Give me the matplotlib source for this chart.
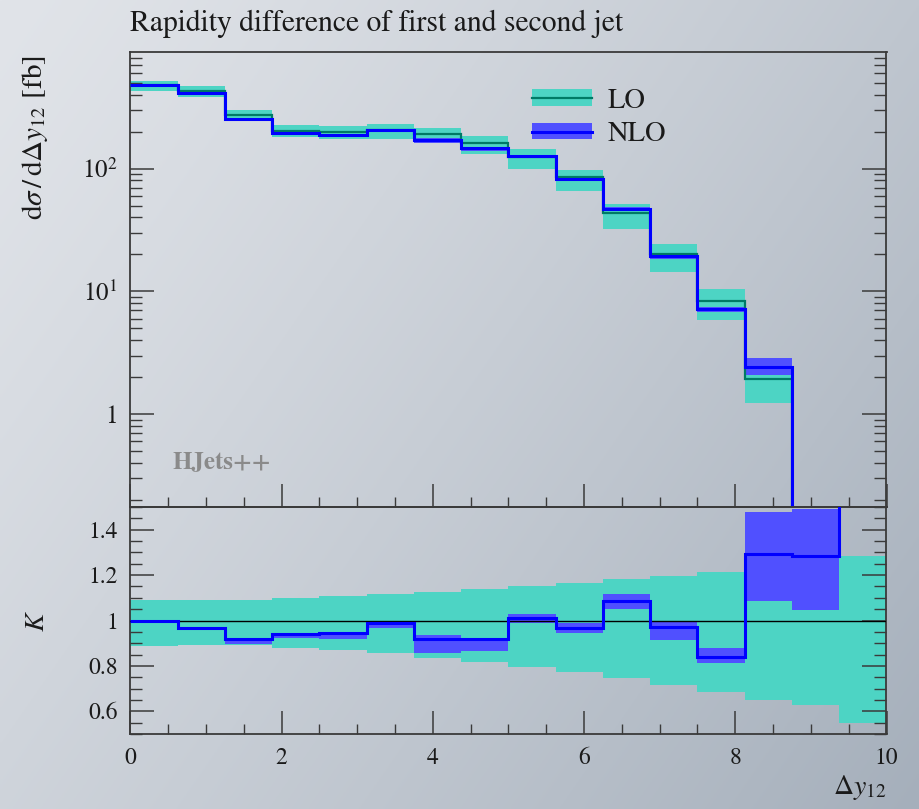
import numpy as np
import matplotlib
matplotlib.use("Agg")
import matplotlib.pyplot as plt
from matplotlib.patches import Patch
from matplotlib.lines import Line2D
from matplotlib.legend_handler import HandlerTuple
from matplotlib.ticker import FixedLocator, MultipleLocator, LogLocator, NullFormatter

plt.rcParams['font.family'] = ['STIXGeneral', 'DejaVu Serif']
plt.rcParams['mathtext.fontset'] = 'stix'

# ---------------- data ----------------
bin_edges = [0.0, 0.625, 1.25, 1.875, 2.5, 3.125, 3.75, 4.375, 5.0,
             5.625, 6.25, 6.875, 7.5, 8.125, 8.75, 9.375, 10.0]

# main panel (fb)
lo_central = [475, 425, 275, 202, 197, 207, 190, 160, 125, 85, 43.5, 20.0, 8.4, 1.93, 0.10, 0.03]
lo_up      = [519, 467, 298, 225, 221, 232, 214, 183, 144, 98, 51.0, 24.1, 10.4, 2.37, 0.125, 0.038]
lo_down    = [428, 382, 258, 181, 175, 175, 160, 132, 100, 66, 32.0, 14.4, 5.85, 1.24, 0.063, 0.016]

nlo_central = [475, 415, 253, 193, 189, 205, 172, 147, 127, 82, 46.4, 19.4, 7.18, 2.44, 0.128, 0.07]
nlo_up      = [478, 418, 254, 194, 189, 206, 177, 148, 129, 84, 48.5, 19.9, 7.40, 2.85, 0.149, 0.08]
nlo_down    = [472, 412, 247, 187, 181, 200, 163, 139, 124, 80, 45.7, 18.3, 6.80, 2.10, 0.105, 0.06]

# ratio panel (K = NLO / LO)
k_lo_up     = [1.092, 1.089, 1.092, 1.098, 1.107, 1.116, 1.126, 1.140, 1.154, 1.167, 1.183, 1.198, 1.213, 1.230, 1.250, 1.282]
k_lo_down   = [0.888, 0.891, 0.894, 0.881, 0.869, 0.856, 0.837, 0.819, 0.796, 0.774, 0.746, 0.715, 0.684, 0.649, 0.626, 0.549]
k_nlo       = [1.000, 0.965, 0.919, 0.941, 0.946, 0.988, 0.919, 0.919, 1.012, 0.965, 1.088, 0.971, 0.841, 1.291, 1.283, 2.300]
k_nlo_up    = [1.004, 0.969, 0.922, 0.947, 0.950, 0.993, 0.934, 0.925, 1.029, 0.988, 1.116, 0.993, 0.880, 1.480, 1.492, 2.600]
k_nlo_down  = [0.996, 0.961, 0.897, 0.924, 0.919, 0.966, 0.859, 0.866, 0.990, 0.943, 1.051, 0.914, 0.812, 1.088, 1.046, 2.000]

main_yticks = [1, 10, 100]
main_yticklabels = ["1", "$10^1$", "$10^2$"]
ratio_yticks = [0.6, 0.8, 1.0, 1.2, 1.4]
ratio_yticklabels = ["0.6", "0.8", "1", "1.2", "1.4"]
xticks = [0, 2, 4, 6, 8, 10]
xticklabels = ["0", "2", "4", "6", "8", "10"]

title = "Rapidity difference of first and second jet"
labels = ["LO", "NLO"]

# ---------------- styles ----------------
C_LO_BAND = '#4DD4C4'
C_LO_LINE = '#007A66'
C_NLO_BAND = '#5050FF'
C_NLO_LINE = '#0000FF'
AX_COL = '#3a3a3a'

W, H = 919, 809
fig = plt.figure(figsize=(W / 100, H / 100), dpi=100)

# background gradient
bg = fig.add_axes([0, 0, 1, 1], zorder=-10)
gx, gy = np.meshgrid(np.linspace(0, 1, 300), np.linspace(0, 1, 300))
t = np.clip(0.62 * gx + 0.38 * gy, 0, 1) ** 1.2
c0 = np.array([0xe1, 0xe4, 0xe9]) / 255
c1 = np.array([0xa5, 0xaf, 0xbb]) / 255
img = c0[None, None, :] * (1 - t[..., None]) + c1[None, None, :] * t[..., None]
bg.imshow(img, aspect='auto', extent=[0, 1, 0, 1], origin='upper')
bg.set_axis_off()

L = 130.3 / W
R = 886.5 / W
ax = fig.add_axes([L, 1 - 507 / H, R - L, (507 - 52) / H])
axr = fig.add_axes([L, 1 - 734 / H, R - L, (734 - 507) / H], sharex=ax)
for a in (ax, axr):
    a.set_facecolor('none')
    for s in a.spines.values():
        s.set_color(AX_COL)
        s.set_linewidth(1.3)

# main panel
ax.stairs(lo_up, bin_edges, baseline=lo_down, fill=True, color=C_LO_BAND, lw=0, zorder=1)
ax.stairs(nlo_up, bin_edges, baseline=nlo_down, fill=True, color=C_NLO_BAND, lw=0, zorder=2)
ax.stairs(lo_central, bin_edges, baseline=None, color=C_LO_LINE, lw=1.6, zorder=3)
ax.stairs(nlo_central, bin_edges, baseline=None, color=C_NLO_LINE, lw=2.2, zorder=4)
ax.set_yscale('log')
ax.set_ylim(0.175, 890)
ax.set_xlim(0, 10)
ax.yaxis.set_major_locator(FixedLocator(main_yticks))
ax.set_yticklabels(main_yticklabels)
ax.yaxis.set_minor_locator(LogLocator(base=10, subs=np.arange(2, 10)))
ax.yaxis.set_minor_formatter(NullFormatter())

# ratio panel
axr.stairs(k_lo_up, bin_edges, baseline=k_lo_down, fill=True, color=C_LO_BAND, lw=0, zorder=1)
axr.stairs(k_nlo_up, bin_edges, baseline=k_nlo_down, fill=True, color=C_NLO_BAND, lw=0, zorder=2)
axr.axhline(1.0, color='black', lw=1.0, zorder=3)
axr.stairs(k_nlo, bin_edges, baseline=None, color=C_NLO_LINE, lw=2.2, zorder=4)
axr.set_ylim(0.5, 1.5)
axr.yaxis.set_major_locator(FixedLocator(ratio_yticks))
axr.set_yticklabels(ratio_yticklabels)
axr.yaxis.set_minor_locator(MultipleLocator(0.05))
axr.set_xticks(xticks)
axr.set_xticklabels(xticklabels)
axr.xaxis.set_minor_locator(MultipleLocator(0.5))

for a in (ax, axr):
    a.tick_params(axis='both', which='both', direction='in', colors=AX_COL,
                  labelcolor='#1a1a1a', labelsize=17, top=False, right=True)
    a.tick_params(axis='y', which='major', length=17, width=1.1, pad=9)
    a.tick_params(axis='y', which='minor', length=8.5, width=1.0)
    a.tick_params(axis='x', which='major', length=16.5, width=1.1, pad=10)
    a.tick_params(axis='x', which='minor', length=7.2, width=1.0)
ax.tick_params(axis='x', labelbottom=False)
ax.tick_params(axis='y', which='major', labelsize=18)

# labels
fig.text(L, 1 - 31 / H, title, fontsize=21.3, color='#1a1a1a', ha='left', va='baseline')
ax.set_ylabel(r"$\mathrm{d}\sigma\,/\,\mathrm{d}\Delta y_{12}$ [fb]", fontsize=21, color='#1a1a1a', ha='right')
ax.yaxis.set_label_coords(-0.106, 0.993)
axr.set_ylabel(r"$K$", fontsize=20, color='#1a1a1a')
axr.yaxis.set_label_coords(-0.106, 0.5)
axr.set_xlabel(r"$\Delta y_{12}$", fontsize=20, color='#1a1a1a', ha='right')
axr.xaxis.set_label_coords(1.0, -0.17)

ax.text(0.0556, 0.0857, "HJets++", transform=ax.transAxes, fontsize=18,
        fontweight='bold', color='#8a8a8a', ha='left', va='baseline')

# legend
h_lo = (Patch(facecolor=C_LO_BAND, edgecolor='none'), Line2D([], [], color=C_LO_LINE, lw=1.6))
h_nlo = (Patch(facecolor=C_NLO_BAND, edgecolor='none'), Line2D([], [], color=C_NLO_LINE, lw=2.2))
leg = ax.legend([h_lo, h_nlo], labels, handler_map={tuple: HandlerTuple(ndivide=1)},
                loc='upper left', bbox_to_anchor=(0.531, 0.92), frameon=False,
                fontsize=20.5, handlelength=2.1, handleheight=0.5, labelspacing=0.3,
                handletextpad=0.55, borderpad=0, borderaxespad=0)
for txt in leg.get_texts():
    txt.set_color('#1a1a1a')

fig.savefig("out.png", dpi=100)
